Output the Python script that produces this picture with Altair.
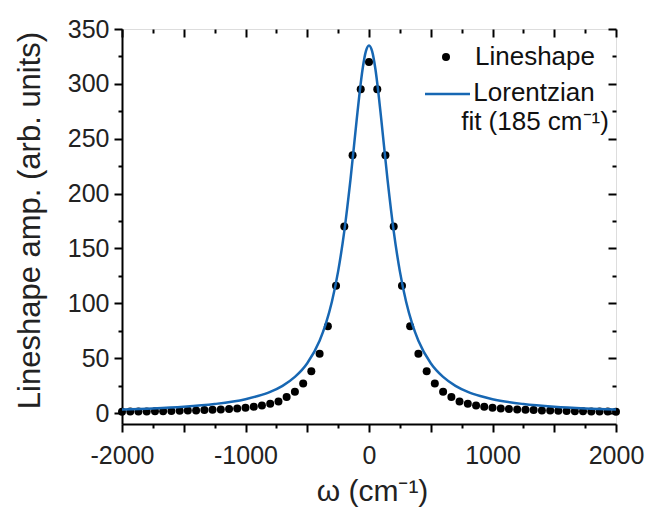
import altair as alt
import pandas as pd

# ---- data ----
omega = [-2000, -1933, -1867, -1800, -1733, -1667, -1600, -1533, -1467, -1400,
         -1333, -1267, -1200, -1133, -1067, -1000, -933, -867, -800, -733,
         -667, -600, -533, -467, -400, -333, -267, -200, -133, -67,
         0,
         67, 133, 200, 267, 333, 400, 467, 533, 600, 667,
         733, 800, 867, 933, 1000, 1067, 1133, 1200, 1267, 1333,
         1400, 1467, 1533, 1600, 1667, 1733, 1800, 1867, 1933, 2000]
amp = [1.2, 1.3, 1.4, 1.5, 1.6, 1.7, 1.8, 2.0, 2.2, 2.4,
       2.7, 3.0, 3.3, 3.7, 4.2, 4.8, 5.8, 6.8, 8.5, 10.5,
       14.5, 19.5, 27, 38, 54, 79, 116, 170, 235, 295,
       320,
       295, 235, 170, 116, 79, 54, 38, 27, 19.5, 14.5,
       10.5, 8.5, 6.8, 5.8, 4.8, 4.2, 3.7, 3.3, 3.0, 2.7,
       2.4, 2.2, 2.0, 1.8, 1.7, 1.6, 1.5, 1.4, 1.3, 1.2]

fit_omega = [-2000, -1750, -1500, -1250, -1000, -900, -800, -700, -600, -500,
             -400, -350, -300, -250, -200, -150, -100, -75, -50, -25,
             0,
             25, 50, 75, 100, 150, 200, 250, 300, 350, 400,
             500, 600, 700, 800, 900, 1000, 1250, 1500, 1750, 2000]
fit_amp = [3.3, 4.2, 5.7, 8.2, 12.6, 15.5, 19.3, 24.8, 32.9, 45.4,
           65.9, 81.2, 101.6, 129.1, 165.8, 212.8, 266.9, 293, 314.9, 329.8,
           335,
           329.8, 314.9, 293, 266.9, 212.8, 165.8, 129.1, 101.6, 81.2, 65.9,
           45.4, 32.9, 24.8, 19.3, 15.5, 12.6, 8.2, 5.7, 4.2, 3.3]

x_major = [-2000, -1500, -1000, -500, 0, 500, 1000, 1500, 2000]
x_minor = [-1750, -1250, -750, -250, 250, 750, 1250, 1750]
y_major = [0, 50, 100, 150, 200, 250, 300, 350]
y_minor = [25, 75, 125, 175, 225, 275, 325]

legend_labels = ["Lineshape", "Lorentzian", "fit (185 cm\u207b\u00b9)"]

FONT = "Liberation Sans"
BLUE = "#1767B3"

pts = pd.DataFrame({"omega": omega, "amp": amp})
fit = pd.DataFrame({"omega": fit_omega, "amp": fit_amp})

xs = alt.Scale(domain=[-2000, 2000], nice=False, zero=False)
ys = alt.Scale(domain=[-10, 350], nice=False, zero=False)

W, H = 494, 395


def ax(values, orient, size, offset=0):
    return alt.Axis(values=values, orient=orient, tickSize=size, offset=offset,
                    labels=False, domain=False, grid=False, title=None,
                    tickColor="black", tickWidth=2)


points = alt.Chart(pts).mark_circle(color="black", size=64, opacity=1).encode(
    x=alt.X("omega:Q", scale=xs, axis=alt.Axis(
        values=x_major, orient="bottom", tickSize=8, labelPadding=11,
        labelExpr="datum.value % 1000 == 0 ? '' + datum.value : ''",
        labelFlush=False, labelOverlap=False, grid=False,
        domain=True, domainColor="black", domainWidth=2,
        tickColor="black", tickWidth=2,
        labelFont=FONT, labelFontSize=25, labelColor="#222222",
        title="\u03c9 (cm\u207b\u00b9)", titleFont=FONT, titleFontSize=30,
        titleFontWeight="normal", titleColor="#222222",
        titleX=250, titleY=52, titleBaseline="top", titleAlign="center")),
    y=alt.Y("amp:Q", scale=ys, axis=alt.Axis(
        values=y_major, orient="left", tickSize=8, labelPadding=5,
        labelExpr="'' + datum.value",
        labelFlush=False, labelOverlap=False, grid=False,
        domain=True, domainColor="black", domainWidth=2,
        tickColor="black", tickWidth=2,
        labelFont=FONT, labelFontSize=25, labelColor="#222222",
        title="Lineshape amp. (arb. units)", titleFont=FONT, titleFontSize=31,
        titleFontWeight="normal", titleColor="#222222",
        titleAngle=270, titleX=-92, titleY=191,
        titleBaseline="middle", titleAlign="center")),
)

line = alt.Chart(fit).mark_line(color=BLUE, strokeWidth=2.5,
                                interpolate="monotone").encode(
    x=alt.X("omega:Q", scale=xs, axis=None),
    y=alt.Y("amp:Q", scale=ys, axis=None),
)


def ghost(xaxis, yaxis):
    return alt.Chart(pts).mark_point(opacity=0).encode(
        x=alt.X("omega:Q", scale=xs, axis=xaxis),
        y=alt.Y("amp:Q", scale=ys, axis=yaxis),
    )


bottom_minor = ghost(ax(x_minor, "bottom", 4), None)
left_minor = ghost(None, ax(y_minor, "left", 4))
top_major = ghost(ax(x_major, "top", 8, offset=-8), None)
top_minor = ghost(ax(x_minor, "top", 4, offset=-4), None)
right_major = ghost(None, ax(y_major, "right", 8, offset=-8))
right_minor = ghost(None, ax(y_minor, "right", 4, offset=-4))


def legend_text(label, x, y, align):
    return alt.Chart(pd.DataFrame({"t": [label]})).mark_text(
        font=FONT, fontSize=26, color="#111111", align=align,
        baseline="middle").encode(text="t:N", x=alt.value(x), y=alt.value(y))


leg_dot = alt.Chart(pd.DataFrame({"k": [legend_labels[0]]})).mark_circle(
    color="black", size=64, opacity=1).encode(
    x=alt.value(324), y=alt.value(28))
leg_line = alt.Chart(pd.DataFrame({"k": [legend_labels[1]]})).mark_rule(
    color=BLUE, strokeWidth=2.5).encode(
    x=alt.value(303), x2=alt.value(348), y=alt.value(65))
leg_t1 = legend_text(legend_labels[0], 353, 28, "left")
leg_t2 = legend_text(legend_labels[1], 412, 64, "center")
leg_t3 = legend_text(legend_labels[2], 413, 93, "center")

chart = alt.layer(
    points, line, bottom_minor, left_minor, top_major, top_minor,
    right_major, right_minor, leg_dot, leg_line, leg_t1, leg_t2, leg_t3,
).resolve_axis(x="independent", y="independent").properties(
    width=W, height=H,
    autosize=alt.AutoSizeParams(type="none"),
    padding={"left": 122, "top": 29, "right": 34, "bottom": 84},
).configure_view(stroke="black", strokeWidth=2).configure(background="white")

chart.save("out.html", embed_options={"renderer": "svg", "actions": False})
